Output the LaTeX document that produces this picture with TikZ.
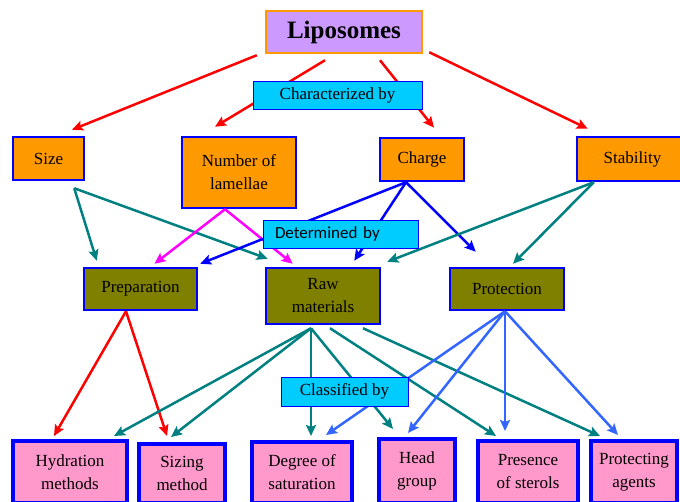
\documentclass[tikz,border=0pt]{standalone}
\usepackage{fontspec}
\setmainfont{Liberation Serif}
\newfontfamily\calibrifont{Carlito}
\usetikzlibrary{arrows.meta, calc}
\definecolor{lipofill}{HTML}{CC99FF}
\definecolor{propfill}{HTML}{FF9900}
\definecolor{linkfill}{HTML}{00CCFF}
\definecolor{factorfill}{HTML}{808000}
\definecolor{classfill}{HTML}{FF99CC}
\definecolor{tealline}{HTML}{008080}
\definecolor{lightblue}{HTML}{3366FF}
\definecolor{pinkline}{HTML}{FF00FF}
\tikzset{
    rootbox/.style={rectangle, fill=lipofill, draw=propfill, line width=2.5pt, inner sep=0pt, font=\fontsize{25}{29}\selectfont\bfseries},
    linkbox/.style={rectangle, fill=linkfill, draw=blue, line width=1pt, inner sep=0pt, font=\fontsize{17}{23}\selectfont},
    propbox/.style={rectangle, fill=propfill, draw=blue, line width=2.5pt, inner sep=0pt, align=center, font=\fontsize{17}{23}\selectfont},
    factorbox/.style={propbox, fill=factorfill},
    classbox/.style={propbox, fill=classfill, line width=4pt},
    redarrow/.style={-{Stealth[length=11pt,width=10pt,inset=2pt]}, line width=2.5pt, draw=red},
    tealarrow/.style={redarrow, draw=tealline},
    pinkarrow/.style={redarrow, draw=pinkline},
    bluearrow/.style={redarrow, draw=blue},
    lbluearrow/.style={redarrow, draw=lightblue}
}

\begin{document}
\begin{tikzpicture}[x=1pt, y=-1pt]
    \useasboundingbox (0,0) rectangle (680,501);
    \node[rootbox, minimum width=156pt, minimum height=42pt] (lipo) at (344,32) {Liposomes};

    % Characteristics
    \node[propbox, minimum width=71pt, minimum height=43pt] (size) at (48.5,158.5) {Size};
    \node[propbox, minimum width=114pt, minimum height=71pt] (lamellae) at (239,172.5) {Number of\\lamellae};
    \node[propbox, minimum width=84pt, minimum height=43pt] (charge) at (422,159.5) {Charge};
    \node[propbox, minimum width=111pt, minimum height=44pt] (stability) at (632.5,159) {Stability};

    % Determining factors
    \node[factorbox, minimum width=113pt, minimum height=42pt] (prep) at (140.5,289) {Preparation};
    \node[factorbox, minimum width=114pt, minimum height=56pt] (raw) at (323,296) {Raw\\materials};
    \node[factorbox, minimum width=114pt, minimum height=42pt] (prot) at (507,289) {Protection};

    % Classes
    \node[classbox, minimum width=114pt, minimum height=62pt] (hydration) at (70,472) {Hydration\\methods};
    \node[classbox, minimum width=86pt, minimum height=59pt] (sizing) at (182,473.5) {Sizing\\method};
    \node[classbox, minimum width=100pt, minimum height=61pt] (degree) at (302,472.5) {Degree of\\saturation};
    \node[classbox, minimum width=76pt, minimum height=64pt] (head) at (417,471) {Head\\group};
    \node[classbox, minimum width=100pt, minimum height=62pt] (sterols) at (528,472) {Presence\\of sterols};
    \node[classbox, minimum width=86pt, minimum height=62pt] (agents) at (634,472) {Protecting\\agents};

    % Liposomes -> characteristics
    \draw[redarrow] ($(lipo.south west)+(-8,1)$) -- ($(size.north)+(23.5,-6)$);
    \draw[redarrow] ($(lipo.south)+(-19,6)$) -- ($(lamellae.north)+(-24,-9)$);
    \draw[redarrow] ($(lipo.south)+(36,6)$) -- ($(charge.north)+(12,-9)$);
    \draw[redarrow] ($(lipo.south east)+(6,-2)$) -- ($(stability.north west)+(12,-7)$);

    % Characteristics -> factors
    \draw[tealarrow] ($(size.south east)+(-11,7)$) -- ($(prep.north west)+(14,-6)$);
    \draw[tealarrow] ($(size.south east)+(-11,7)$) -- ($(raw.north west)+(3,-8)$);
    \draw[pinkarrow] ($(lamellae.south)+(-14,0)$) -- ($(prep.north)+(14,-3)$);
    \draw[pinkarrow] ($(lamellae.south)+(-14,0)$) -- ($(raw.north west)+(28,-3)$);
    \draw[bluearrow] ($(charge.south)+(-16,0)$) -- ($(prep.north east)+(2,-3)$);
    \draw[bluearrow] ($(charge.south)+(-16,0)$) -- ($(raw.north east)+(-27,-6)$);
    \draw[bluearrow] ($(charge.south)+(-16,0)$) -- ($(prot.north west)+(27,-15)$);
    \draw[tealarrow] ($(stability.south west)+(18,0)$) -- ($(raw.north east)+(6,-5)$);
    \draw[tealarrow] ($(stability.south west)+(18,0)$) -- ($(prot.north)+(6,-3)$);

    % Factors -> classes
    \draw[redarrow] ($(prep.south)+(-14.5,0)$) -- ($(hydration.north west)+(43,-3)$);
    \draw[redarrow] ($(prep.south)+(-14.5,0)$) -- ($(sizing.north west)+(30,-6)$);
    \draw[tealarrow] ($(raw.south)+(-12,3)$) -- ($(hydration.north east)+(-15,-3)$);
    \draw[tealarrow] ($(raw.south)+(-12,3)$) -- ($(sizing.north west)+(34,-5)$);
    \draw[tealarrow] ($(raw.south)+(-12,3)$) -- ($(degree.north)+(9,-4)$);
    \draw[tealarrow] ($(raw.south)+(-12,3)$) -- ($(head.north west)+(16,-8)$);
    \draw[tealarrow] ($(raw.south)+(7,3)$) -- ($(sterols.north west)+(20,-3)$);
    \draw[tealarrow] ($(raw.south)+(40,3)$) -- ($(agents.north west)+(11,-3)$);
    \draw[lbluearrow] ($(prot.south)+(-2,0)$) -- ($(degree.north east)+(-28,-5)$);
    \draw[lbluearrow] ($(prot.south)+(-2,0)$) -- ($(head.north)+(-9,-4)$);
    \draw[lbluearrow] ($(prot.south)+(-2,0)$) -- ($(sterols.north)+(-23,-8)$);
    \draw[lbluearrow] ($(prot.south)+(-2,0)$) -- ($(agents.north)+(-16,-4)$);

    % Link labels on top of the arrows
    \node[linkbox, minimum width=169pt, minimum height=28pt] (charby) at (337.5,95) {Characterized by};
    \node[linkbox, minimum width=155pt, minimum height=28pt, text width=131pt, inner xsep=12pt, align=left, font=\fontsize{17}{23}\selectfont\calibrifont] (detby) at (340.5,234) {Determined by};
    \node[linkbox, minimum width=127pt, minimum height=29pt] (classby) at (344.5,391.5) {Classified by};
\end{tikzpicture}
\end{document}
